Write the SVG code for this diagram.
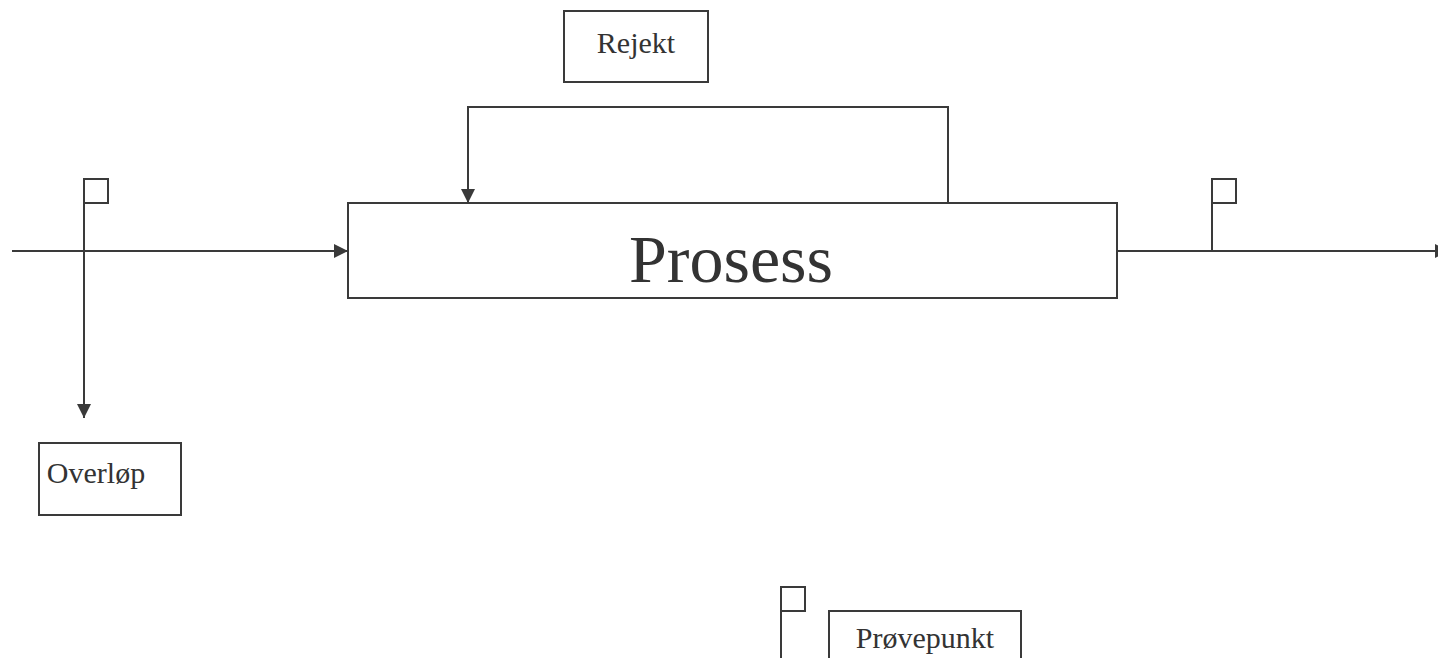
<svg xmlns="http://www.w3.org/2000/svg" width="1438" height="658" viewBox="0 0 1438 658">
<defs>
<style>
.box{fill:#fff;stroke:#3a3a3a;stroke-width:2}
.ln{fill:none;stroke:#3a3a3a;stroke-width:2}
.t{font-family:"Liberation Serif","Times New Roman",serif;fill:#333;text-anchor:middle}
</style>
<marker id="ah" markerWidth="14" markerHeight="14" refX="14" refY="7" orient="auto" markerUnits="userSpaceOnUse">
<path d="M0,0 L14,7 L0,14 Z" fill="#3a3a3a"/>
</marker>
</defs>
<rect width="1438" height="658" fill="#fff"/>
<g id="connectors">
<line class="ln" x1="12" y1="251" x2="348" y2="251" marker-end="url(#ah)"/>
<polyline class="ln" points="948,203 948,107 468,107 468,203" marker-end="url(#ah)"/>
<line class="ln" x1="1117" y1="251" x2="1449" y2="251" marker-end="url(#ah)"/>
<line class="ln" x1="84" y1="203" x2="84" y2="418" marker-end="url(#ah)"/>
</g>
<g id="flag-in">
<line class="ln" x1="84" y1="179" x2="84" y2="203"/>
<rect class="box" x="84" y="179" width="24" height="24"/>
</g>
<g id="flag-out">
<line class="ln" x1="1212" y1="179" x2="1212" y2="251"/>
<rect class="box" x="1212" y="179" width="24" height="24"/>
</g>
<g id="prosess">
<rect class="box" x="348" y="203" width="769" height="95"/>
<text class="t" x="731" y="282" font-size="68">Prosess</text>
</g>
<g id="rejekt">
<rect class="box" x="564" y="11" width="144" height="71"/>
<text class="t" x="636" y="53" font-size="30">Rejekt</text>
</g>
<g id="overlop">
<rect class="box" x="39" y="443" width="142" height="72"/>
<text class="t" x="96" y="483" font-size="30">Overløp</text>
</g>
<g id="flag-legend">
<line class="ln" x1="781" y1="587" x2="781" y2="660"/>
<rect class="box" x="781" y="587" width="24" height="24"/>
</g>
<g id="provepunkt">
<rect class="box" x="829" y="611" width="192" height="60"/>
<text class="t" x="925" y="648" font-size="30">Prøvepunkt</text>
</g>
</svg>
